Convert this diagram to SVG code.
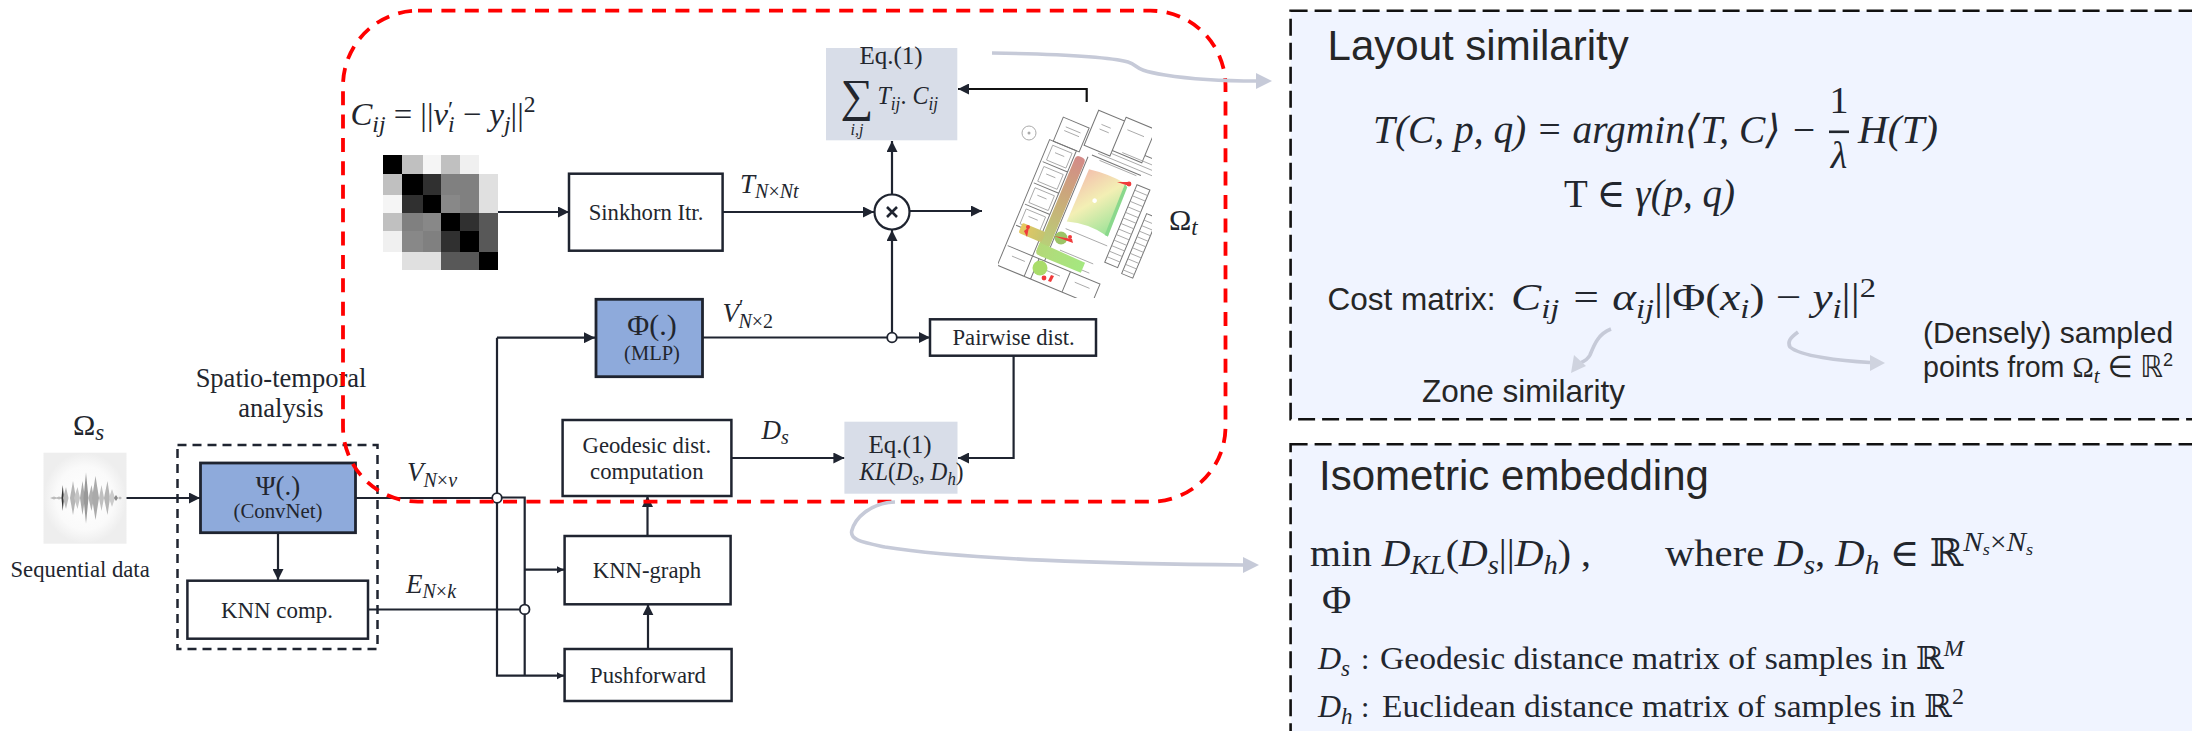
<svg xmlns="http://www.w3.org/2000/svg" width="2192" height="731" viewBox="0 0 2192 731">
<style>
text{fill:#22262e;font-family:"Liberation Serif","DejaVu Serif",serif}
.c{text-anchor:middle}
.i{font-style:italic}
.sans{font-family:"Liberation Sans","DejaVu Sans",sans-serif;fill:#262626}
.box{fill:#fff;stroke:#1f2430;stroke-width:2.5}
.blue{fill:#8eaadb;stroke:#1f2430;stroke-width:2.8}
.eq{fill:#d8dde8}
.ln{fill:none;stroke:#1f2430;stroke-width:2.2}
.gr{fill:none;stroke:#c6cad8;stroke-width:3.6}
.panel{fill:#f0f4ff;stroke:#111;stroke-width:2.6;stroke-dasharray:17 7}
.j{fill:#fff;stroke:#1f2430;stroke-width:1.8}
.w{fill:none;stroke:#a0a0a0;stroke-width:.8}
.w2{fill:none;stroke:#777;stroke-width:1}
.s{font-size:.72em}
</style>
<defs>
<marker id="a" viewBox="0 0 10 10" refX="10" refY="5" markerWidth="11" markerHeight="11" markerUnits="userSpaceOnUse" orient="auto"><path d="M0 0L10 5L0 10z" fill="#1f2430"/></marker>
<marker id="b" viewBox="0 0 10 10" refX="10" refY="5" markerWidth="7" markerHeight="8" markerUnits="userSpaceOnUse" orient="auto"><path d="M0 0L10 5L0 10z" fill="#1f2430"/></marker>
<radialGradient id="wg"><stop offset="0" stop-color="#fff"/><stop offset=".7" stop-color="#fafafa"/><stop offset="1" stop-color="#eeeeee"/></radialGradient>
<linearGradient id="band" x1="0" y1="0" x2="0" y2="1"><stop offset="0" stop-color="#d48a88"/><stop offset=".5" stop-color="#c8b078"/><stop offset="1" stop-color="#b4d878"/></linearGradient>
<linearGradient id="hall" x1="0" y1="0" x2="1" y2="0"><stop offset="0" stop-color="#b4d878"/><stop offset="1" stop-color="#a4e880"/></linearGradient>
<linearGradient id="wing" x1="0" y1="0" x2="1" y2="0"><stop offset="0" stop-color="#e8c860"/><stop offset="1" stop-color="#c4c470"/></linearGradient>
<linearGradient id="zone" x1="0" y1="0" x2="1" y2="1"><stop offset="0" stop-color="#f2bca8"/><stop offset=".45" stop-color="#f2eeb0"/><stop offset="1" stop-color="#90e090"/></linearGradient>
<clipPath id="pc"><rect x="998" y="108" width="154" height="190"/></clipPath>
<filter id="soft" x="-5%" y="-5%" width="110%" height="110%"><feGaussianBlur stdDeviation=".6"/></filter>
</defs>
<rect width="2192" height="731" fill="#fff"/>

<g id="panel-layout">
<rect class="panel" x="1290.6" y="10.7" width="960" height="408.5"/>
<text class="sans" x="1327.6" y="59.5" font-size="42">Layout similarity</text>
<text class="i" x="1373" y="143" font-size="40" textLength="444" lengthAdjust="spacingAndGlyphs">T(C, p, q) = argmin⟨T, C⟩ −</text>
<text class="c" x="1839" y="113" font-size="38">1</text>
<rect x="1829" y="130.5" width="20" height="2.6" fill="#22262e"/>
<text class="c i" x="1839" y="168" font-size="38">λ</text>
<text class="i" x="1858" y="143" font-size="40" textLength="80" lengthAdjust="spacingAndGlyphs">H(T)</text>
<text x="1564" y="206.5" font-size="40" textLength="171" lengthAdjust="spacingAndGlyphs">T ∈ <tspan class="i">γ(p, q)</tspan></text>
<text class="sans" x="1327.6" y="310" font-size="31.5">Cost matrix:</text>
<text class="i" x="1511" y="310" font-size="38" textLength="365" lengthAdjust="spacingAndGlyphs">C<tspan class="s" dy="8">ij</tspan><tspan dy="-8"> = α</tspan><tspan class="s" dy="8">ij</tspan><tspan dy="-8" font-style="normal">||Φ(</tspan>x<tspan class="s" dy="8">i</tspan><tspan dy="-8" font-style="normal">) − </tspan>y<tspan class="s" dy="8">i</tspan><tspan dy="-8" font-style="normal">||</tspan><tspan class="s" dy="-13" font-style="normal">2</tspan></text>
<text class="sans" x="1422" y="401.5" font-size="31.5">Zone similarity</text>
<text class="sans" x="1923" y="343" font-size="30">(Densely) sampled</text>
<text class="sans" x="1923" y="376.5" font-size="30" textLength="250" lengthAdjust="spacingAndGlyphs">points from <tspan font-family="Liberation Serif">Ω</tspan><tspan class="i" font-family="Liberation Serif" font-size="22" dy="6">t</tspan><tspan dy="-6"> ∈ ℝ</tspan><tspan font-size="19" dy="-11">2</tspan></text>
</g>

<g id="panel-isometric">
<rect class="panel" x="1290.6" y="444.3" width="960" height="340"/>
<text class="sans" x="1319" y="490" font-size="42">Isometric embedding</text>
<text x="1310" y="566" font-size="38" textLength="281" lengthAdjust="spacingAndGlyphs">min <tspan class="i">D</tspan><tspan class="s i" dy="8">KL</tspan><tspan dy="-8">(</tspan><tspan class="i">D</tspan><tspan class="s i" dy="8">s</tspan><tspan dy="-8">||</tspan><tspan class="i">D</tspan><tspan class="s i" dy="8">h</tspan><tspan dy="-8">) ,</tspan></text>
<text x="1665" y="566" font-size="38" textLength="368" lengthAdjust="spacingAndGlyphs">where <tspan class="i">D</tspan><tspan class="s i" dy="8">s</tspan><tspan dy="-8">, </tspan><tspan class="i">D</tspan><tspan class="s i" dy="8">h</tspan><tspan dy="-8"> ∈  ℝ</tspan><tspan class="s i" dy="-15">N</tspan><tspan class="i" font-size="17" dy="4">s</tspan><tspan class="s" dy="-4">×</tspan><tspan class="s i">N</tspan><tspan class="i" font-size="17" dy="4">s</tspan></text>
<text x="1322" y="613" font-size="40">Φ</text>
<text class="i" x="1318" y="669" font-size="32">D<tspan class="s" dy="7">s</tspan></text>
<text x="1361" y="669" font-size="30">:</text>
<text x="1380" y="669" font-size="32" textLength="584" lengthAdjust="spacingAndGlyphs">Geodesic distance matrix of samples in ℝ<tspan class="s i" dy="-13">M</tspan></text>
<text class="i" x="1318" y="717" font-size="32">D<tspan class="s" dy="7">h</tspan></text>
<text x="1361" y="717" font-size="30">:</text>
<text x="1382" y="717" font-size="32" textLength="582" lengthAdjust="spacingAndGlyphs">Euclidean distance matrix of samples in ℝ<tspan class="s" dy="-13">2</tspan></text>
</g>

<g id="waveform">
<rect x="43.5" y="452.7" width="83" height="91" fill="url(#wg)"/>
<g filter="url(#soft)">
<path d="M50 498L54 496.5L58 498L54 499.5z M55 498L59 496.5L63 498L59 499.5z" fill="#bbb"/>
<path d="M61.500 498L62.700 485L64 498L62.700 511z" fill="#333"/>
<path d="M63 498L66 487L68.5 498L66 509z" fill="#bbb"/>
<path d="M70 498L73 481L76 498L73 515z" fill="#b5b5b5"/>
<path d="M74 498L77.5 487L80 498L77.5 509z" fill="#c5c5c5"/>
<path d="M80 498L82.5 481L85 498L82.5 515z" fill="#aaa"/>
<path d="M83.5 498L86 472.5L88.5 498L86 523.5z" fill="#999"/>
<path d="M88.5 498L91.5 485L94 498L91.5 511z" fill="#b0b0b0"/>
<path d="M92 498L95.5 476L99 498L95.5 520z" fill="#aaa"/>
<path d="M99 498L101.5 485L104 498L101.5 511z" fill="#c0c0c0"/>
<path d="M104 498L107.5 481L110 498L107.5 515z" fill="#b5b5b5"/>
<path d="M109 498L112 489L115 498L112 507z" fill="#ccc"/>
<path d="M114 498L116 495L118 498L116 501z" fill="#888"/>
<path d="M118 498L120 496.5L122 498L120 499.5z" fill="#bbb"/>
</g>
</g>

<g id="cost-matrix">
<g shape-rendering="crispEdges">
<rect x="383" y="155" width="19.4" height="19" fill="#000"/><rect x="402.4" y="155" width="20.1" height="19" fill="#c0c0c0"/><rect x="422.5" y="155" width="18.2" height="19" fill="#f5f5f5"/><rect x="440.7" y="155" width="19" height="19" fill="#c0c0c0"/><rect x="459.7" y="155" width="19.3" height="19" fill="#f0f0f0"/>
<rect x="383" y="174" width="19.4" height="21" fill="#c0c0c0"/><rect x="402.4" y="174" width="20.1" height="21" fill="#000"/><rect x="422.5" y="174" width="18.2" height="21" fill="#303030"/><rect x="440.7" y="174" width="19" height="21" fill="#808080"/><rect x="459.7" y="174" width="19.3" height="21" fill="#808080"/><rect x="479" y="174" width="19" height="21" fill="#e0e0e0"/>
<rect x="383" y="195" width="19.4" height="17.7" fill="#f5f5f5"/><rect x="402.4" y="195" width="20.1" height="17.7" fill="#303030"/><rect x="422.5" y="195" width="18.2" height="17.7" fill="#000"/><rect x="440.7" y="195" width="19" height="17.7" fill="#888"/><rect x="459.7" y="195" width="19.3" height="17.7" fill="#808080"/><rect x="479" y="195" width="19" height="17.7" fill="#e0e0e0"/>
<rect x="383" y="212.7" width="19.4" height="18" fill="#c0c0c0"/><rect x="402.4" y="212.7" width="20.1" height="18" fill="#808080"/><rect x="422.5" y="212.7" width="18.2" height="18" fill="#888"/><rect x="440.7" y="212.7" width="19" height="18" fill="#000"/><rect x="459.7" y="212.7" width="19.3" height="18" fill="#303030"/><rect x="479" y="212.7" width="19" height="18" fill="#585858"/>
<rect x="383" y="230.7" width="19.4" height="21" fill="#f0f0f0"/><rect x="402.4" y="230.7" width="20.1" height="21" fill="#888"/><rect x="422.5" y="230.7" width="18.2" height="21" fill="#808080"/><rect x="440.7" y="230.7" width="19" height="21" fill="#303030"/><rect x="459.7" y="230.7" width="19.3" height="21" fill="#000"/><rect x="479" y="230.7" width="19" height="21" fill="#585858"/>
<rect x="402.4" y="251.7" width="20.1" height="18.3" fill="#e0e0e0"/><rect x="422.5" y="251.7" width="18.2" height="18.3" fill="#e0e0e0"/><rect x="440.7" y="251.7" width="19" height="18.3" fill="#585858"/><rect x="459.7" y="251.7" width="19.3" height="18.3" fill="#585858"/><rect x="479" y="251.7" width="19" height="18.3" fill="#000"/>
</g>
</g>

<g id="floor-plan" clip-path="url(#pc)">
<g filter="url(#soft)">
<g transform="translate(1053 136.7) rotate(22.6)">
<path class="w2" d="M-2 4H27V140H-2z M0 27H27 M0 50H27 M0 73H27 M0 96H27 M0 118H100V140H0 M34 118V140 M68 118V140"/>
<path class="w" d="M3 8H24V24H3z M3 31H24V47H3z M3 54H24V70H3z M3 77H24V93H3z M8 14H18 M8 37H18 M8 60H18 M8 83H18 M8 126H22 M42 126H60 M76 126H92"/>
<path class="w2" d="M2 -22H30V4H2z M32 -42H60V-4H32z M60 -46H92V-10H60z M92 -58H125V-18H92z"/>
<path class="w" d="M40 -30H50 M40 -25H50 M66 -35H84 M100 -45H118 M8 -14H24 M8 -10H24"/>
<path class="w2" d="M40 5V118 M43 2H96 M96 12H110V96H96z M116 35H128V100H116z"/>
<path class="w" d="M96 18H110 M96 24H110 M96 30H110 M96 36H110 M96 42H110 M96 48H110 M96 54H110 M96 60H110 M96 66H110 M96 72H110 M96 78H110 M96 84H110 M96 90H110 M116 42H128 M116 48H128 M116 54H128 M116 60H128 M116 66H128 M116 72H128 M116 78H128 M116 84H128 M116 90H128 M116 96H128"/>
<path class="w" d="M48 -2H118 M52 4H92 M60 -7H118 M70 -12H118 M47 80H92 M50 102H86 M50 112H86"/>
<rect x="28.500" y="8" width="10.500" height="107" rx="4" fill="url(#band)"/>
<path d="M28.500 103H39L78 104V115H34L28.500 112z" fill="url(#hall)"/>
<path d="M45.800 16.300Q65 13 84.300 15.400L89 71Q66 66 45.300 73z" fill="url(#zone)" opacity=".95"/>
<path d="M84.500 16L88 18 89 71H85.500z" fill="#8ad88c"/>
<rect x="5" y="91" width="25" height="11" rx="2" fill="url(#wing)"/>
<circle cx="63" cy="43" r="2.300" fill="#fff"/>
</g>
<circle cx="1040" cy="268" r="7.500" fill="#a9dc6a"/>
<circle cx="1061" cy="238" r="6.500" fill="#9cc466"/>
<path d="M1024 231L1029 227L1027 237z M1117 182L1129 186L1128 182z M1054 236L1073 243L1072 239z" fill="#f03a3a"/>
<circle cx="1028" cy="227" r="2" fill="#f03a3a"/><circle cx="1129" cy="184" r="2.400" fill="#f03a3a"/><circle cx="1070" cy="237" r="2" fill="#f03a3a"/><circle cx="1044" cy="278" r="2.400" fill="#f03a3a"/>
<path d="M1051 275L1054 276L1051 282L1048 281z" fill="#f03a3a"/>
<circle cx="1029" cy="133" r="7" fill="none" stroke="#aaa" stroke-width="1"/><circle cx="1029" cy="133" r="1.500" fill="#aaa"/>
</g>
</g>

<g id="connectors">
<path class="ln" d="M126.500 498H200" marker-end="url(#a)"/>
<path class="ln" d="M355.500 498H492"/>
<path class="ln" d="M278 532.700V580" marker-end="url(#a)"/>
<path class="ln" d="M368 609.500H520"/>
<path class="ln" d="M497 337.700H595" marker-end="url(#a)"/>
<path class="ln" d="M497 337.700V675.700H564" marker-end="url(#b)"/>
<path class="ln" d="M497 497.500H524.700V675.700"/>
<path class="ln" d="M524.700 569.700H564" marker-end="url(#b)"/>
<path class="ln" d="M498 212H569" marker-end="url(#a)"/>
<path class="ln" d="M722.600 212H874" marker-end="url(#a)"/>
<path class="ln" d="M892 194V141" marker-end="url(#a)"/>
<path class="ln" d="M892 337.300V230" marker-end="url(#a)"/>
<path class="ln" d="M910 211H982" marker-end="url(#a)"/>
<path class="ln" d="M1086.700 102V89H958" marker-end="url(#a)" style="stroke:#111"/>
<path class="ln" d="M702.500 337.500H930" marker-end="url(#a)"/>
<path class="ln" d="M1013.600 355.700V458H958" marker-end="url(#a)"/>
<path class="ln" d="M731.400 458H844.400" marker-end="url(#a)"/>
<path class="ln" d="M647.500 536V496" marker-end="url(#a)"/>
<path class="ln" d="M648 649V604.300" marker-end="url(#a)"/>
</g>

<g id="spatio-temporal-frame">
<rect x="177.500" y="445" width="200" height="204" fill="none" stroke="#1f2430" stroke-width="2.500" stroke-dasharray="9 6"/>
<text class="c" x="281" y="386.700" font-size="26.500">Spatio-temporal</text>
<text class="c" x="281" y="417" font-size="26.500">analysis</text>
</g>

<g id="node-psi"><rect class="blue" x="200.500" y="463" width="155" height="69.700"/><text class="c" x="278" y="495" font-size="27">Ψ(.)</text><text class="c" x="278" y="518" font-size="20.800">(ConvNet)</text></g>
<g id="node-knn-comp"><rect class="box" x="187.400" y="580.700" width="180.600" height="58"/><text class="c" x="277" y="618" font-size="22.900">KNN comp.</text></g>
<g id="node-sinkhorn"><rect class="box" x="569" y="173.700" width="153.600" height="77"/><text class="c" x="646" y="220" font-size="22.700">Sinkhorn Itr.</text></g>
<g id="node-phi"><rect class="blue" x="596" y="299.300" width="106.500" height="77.400"/><text class="c" x="652" y="335" font-size="30">Φ(.)</text><text class="c" x="652" y="360" font-size="20.500">(MLP)</text></g>
<g id="node-pairwise"><rect class="box" x="930" y="319.300" width="166" height="36.400"/><text class="c" x="1013.600" y="345" font-size="22.700">Pairwise dist.</text></g>
<g id="node-geodesic"><rect class="box" x="562.600" y="420" width="168.800" height="76"/><text class="c" x="646.800" y="452.700" font-size="22.700">Geodesic dist.</text><text class="c" x="646.800" y="479.300" font-size="22.700">computation</text></g>
<g id="node-knn-graph"><rect class="box" x="564.600" y="536" width="166" height="68.300"/><text class="c" x="647" y="577.700" font-size="22.700">KNN-graph</text></g>
<g id="node-pushforward"><rect class="box" x="564.600" y="649" width="167" height="52"/><text class="c" x="648" y="683" font-size="22.700">Pushforward</text></g>
<g id="node-eq-top"><rect class="eq" x="826" y="48" width="131.300" height="92.300"/>
<text class="c" x="891" y="64" font-size="25">Eq.(1)</text>
<text class="c" x="857" y="111" font-size="46">∑</text>
<text class="c i" x="857" y="135" font-size="16">i,j</text>
<text class="i" x="877.500" y="104" font-size="25" textLength="60.500" lengthAdjust="spacingAndGlyphs">T<tspan class="s" dy="6">ij</tspan><tspan dy="-6" font-style="normal">. </tspan>C<tspan class="s" dy="6">ij</tspan></text></g>
<g id="node-eq-kl"><rect class="eq" x="844.400" y="421.700" width="113.100" height="72"/>
<text class="c" x="900" y="453" font-size="25">Eq.(1)</text>
<text class="i" x="859.500" y="480" font-size="25" textLength="104" lengthAdjust="spacingAndGlyphs">KL<tspan font-style="normal">(</tspan>D<tspan class="s" dy="5">s</tspan><tspan dy="-5" font-style="normal">, </tspan>D<tspan class="s" dy="5">h</tspan><tspan dy="-5" font-style="normal">)</tspan></text></g>
<g id="node-multiply"><circle cx="892" cy="212" r="17.500" fill="#fff" stroke="#1f2430" stroke-width="2.200"/><path d="M887 207L897 217M897 207L887 217" stroke="#1f2430" stroke-width="2.600"/></g>

<g id="junctions">
<circle class="j" cx="497" cy="498" r="4.800"/>
<circle class="j" cx="524.700" cy="609.400" r="4.800"/>
<circle class="j" cx="892" cy="337.500" r="4.800"/>
</g>

<g id="labels">
<text x="73" y="435" font-size="30">Ω<tspan class="i" font-size="23" dy="5">s</tspan></text>
<text x="10.500" y="577" font-size="22.700">Sequential data</text>
<text class="i" x="407" y="481" font-size="27">V<tspan font-size="20" dy="6">N<tspan font-style="normal">×</tspan>v</tspan></text>
<text class="i" x="406" y="593" font-size="27">E<tspan font-size="20" dy="5">N<tspan font-style="normal">×</tspan>k</tspan></text>
<text class="i" x="740" y="193" font-size="27">T<tspan font-size="20" dy="5">N<tspan font-style="normal">×</tspan>Nt</tspan></text>
<text class="i" x="722.500" y="321.700" font-size="27">V<tspan font-style="normal" font-size="20" dy="-8">′</tspan><tspan font-size="20" dx="-5" dy="14">N<tspan font-style="normal">×2</tspan></tspan></text>
<text class="i" x="761.400" y="439" font-size="27">D<tspan font-size="20" dy="5">s</tspan></text>
<text class="i" x="350.500" y="125" font-size="32" textLength="185" lengthAdjust="spacingAndGlyphs">C<tspan class="s" dy="7">ij</tspan><tspan dy="-7" font-style="normal"> = ||</tspan>v<tspan class="s" font-style="normal" dy="-8">′</tspan><tspan class="s" dx="-5" dy="15">i</tspan><tspan dy="-7" font-style="normal"> − </tspan>y<tspan class="s" dy="7">j</tspan><tspan dy="-7" font-style="normal">||</tspan><tspan class="s" font-style="normal" dy="-13">2</tspan></text>
<text x="1169" y="230" font-size="30">Ω<tspan class="i" font-size="23" dy="5">t</tspan></text>
</g>

<g id="region-highlight"><rect x="343" y="10.700" width="882.500" height="491" rx="75" ry="75" fill="none" stroke="#ff0000" stroke-width="3.800" stroke-dasharray="14 9.400"/></g>

<g id="callouts">
<path class="gr" d="M992 53C1050 54 1110 57 1128 62C1140 66 1132 70 1165 75C1190 79 1225 81 1257 81"/>
<path d="M1256 73L1272 81L1256 89z" fill="#c6cad8"/>
<path class="gr" d="M895 502C870 503 855 518 851.700 531C850 540 862 542 885 547C960 559 1110 564 1244 565"/>
<path d="M1243 557L1259 565L1243 573z" fill="#c6cad8"/>
<path class="gr" d="M1611 329C1598 334 1594 345 1590 355C1587 361 1582 362 1578 364"/>
<path d="M1571 373L1574 355L1586 366z" fill="#cfd3df"/>
<path class="gr" d="M1798 332C1790 338 1787 342 1790 347C1800 356 1840 361 1870 362.500"/>
<path d="M1870 355L1885 363L1870 371z" fill="#cfd3df"/>
</g>
</svg>
